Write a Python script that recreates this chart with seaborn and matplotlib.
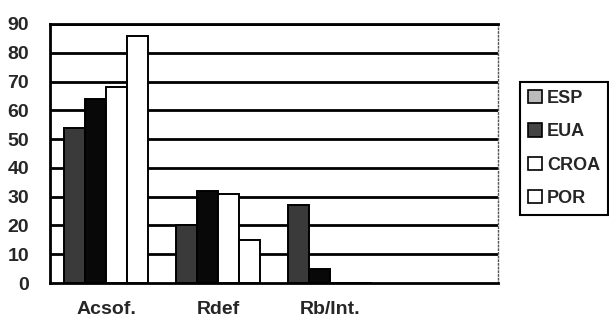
import matplotlib
matplotlib.use("Agg")
import matplotlib.pyplot as plt
import seaborn as sns
import pandas as pd
from matplotlib.patches import Patch

categories = ["Acsof.", "Rdef", "Rb/Int."]
slots = ["Acsof.", "Rdef", "Rb/Int.", " "]
series = ["ESP", "EUA", "CROA", "POR"]
esp = [54, 20, 27]
eua = [64, 32, 5]
croa = [68, 31, 0]
por = [86, 15, 0]
yticks = [0, 10, 20, 30, 40, 50, 60, 70, 80, 90]

rows = []
for name, vals in zip(series, [esp, eua, croa, por]):
    for c, v in zip(categories, vals):
        rows.append({"cat": c, "serie": name, "val": v})
df = pd.DataFrame(rows)

sns.set_theme(style="white")
plt.rcParams["font.family"] = ["Liberation Sans", "DejaVu Sans"]
plt.rcParams["font.weight"] = "bold"

fig = plt.figure(figsize=(6.09, 3.20), dpi=100)
ax = fig.add_axes([50/609, 37/320, 448/609, 259/320])

palette = {"ESP": "#3a3a3a", "EUA": "#080808", "CROA": "#ffffff", "POR": "#ffffff"}
sns.barplot(data=df, x="cat", y="val", hue="serie", order=slots, hue_order=series,
            palette=palette, width=0.75, edgecolor="black", linewidth=1.4,
            saturation=1, legend=False, ax=ax, zorder=3)

ax.set_ylim(0, 90)
ax.set_xlim(-0.5, 3.5)
ax.set_yticks(yticks)
ax.set_yticklabels([str(t) for t in yticks], fontsize=14, fontweight="bold")
for t in yticks[1:]:
    ax.axhline(t, color="black", lw=2, zorder=1)

ax.set_xticks([-0.5, 0.5, 1.5, 2.5, 3.5])
ax.set_xticklabels([])
ax.set_xticks([0, 1, 2], minor=True)
ax.set_xticklabels(categories, minor=True, fontsize=14, fontweight="bold")
ax.tick_params(axis="x", which="minor", length=0, pad=13)
ax.tick_params(axis="x", which="major", direction="out", length=6, width=1.5, color="black")
ax.tick_params(axis="y", direction="out", length=6, width=1.5, color="black", pad=9)
ax.set_xlabel("")
ax.set_ylabel("")

for s in ["left", "bottom", "top"]:
    ax.spines[s].set_color("black")
    ax.spines[s].set_linewidth(2)
ax.spines["right"].set_color("#555555")
ax.spines["right"].set_linewidth(1)
ax.spines["right"].set_linestyle(":")

handles = [Patch(facecolor="#bbbbbb", edgecolor="black", linewidth=1.2),
           Patch(facecolor="#444444", edgecolor="black", linewidth=1.2),
           Patch(facecolor="#ffffff", edgecolor="black", linewidth=1.2),
           Patch(facecolor="#ffffff", edgecolor="black", linewidth=1.2)]
leg = fig.legend(handles, series, loc="upper left", bbox_to_anchor=(520/609, (320-82)/320),
                 frameon=True, fancybox=False, edgecolor="black", framealpha=1,
                 prop={"size": 13, "weight": "bold"}, handlelength=0.75, handleheight=0.75,
                 handletextpad=0.3, labelspacing=0.9, borderpad=0.45, borderaxespad=0)
leg.get_frame().set_linewidth(1.5)

fig.savefig("out.png", dpi=100, facecolor="white")
